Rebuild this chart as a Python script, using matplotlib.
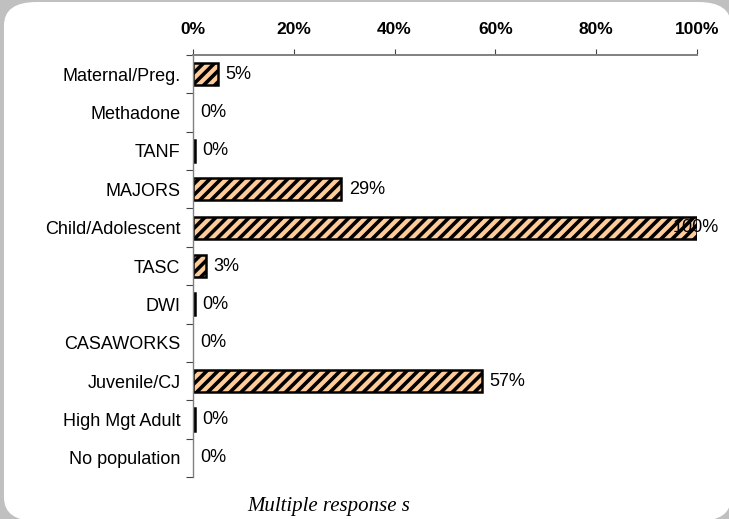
import matplotlib
matplotlib.use('Agg')
import matplotlib.pyplot as plt
from matplotlib.patches import FancyBboxPatch

plt.rcParams['font.family'] = ['Liberation Sans', 'DejaVu Sans']
plt.rcParams['hatch.linewidth'] = 2.6
plt.rcParams['hatch.color'] = '#333333'

categories = ['Maternal/Preg.', 'Methadone', 'TANF', 'MAJORS', 'Child/Adolescent',
              'TASC', 'DWI', 'CASAWORKS', 'Juvenile/CJ', 'High Mgt Adult', 'No population']
values = [5.0, 0.0, 0.4, 29.4, 100.0, 2.6, 0.4, 0.0, 57.3, 0.4, 0.0]
labels = ['5%', '0%', '0%', '29%', '100%', '3%', '0%', '0%', '57%', '0%', '0%']
xticks = [0, 20, 40, 60, 80, 100]

W, H = 729, 519
fig = plt.figure(figsize=(W / 100, H / 100), dpi=100)
fig.patch.set_facecolor('#c0c0c0')

# white rounded panel behind everything
panel = FancyBboxPatch((4 / W, -2 / H), 727 / W, 519 / H,
                       boxstyle='round,pad=0,rounding_size=0.045',
                       transform=fig.transFigure, facecolor='white',
                       edgecolor='none', zorder=-5)
fig.patches.append(panel)

ax = fig.add_axes([193 / W, 1 - 477 / H, (697 - 193) / W, (477 - 55) / H])
ax.patch.set_alpha(0)

ypos = list(range(len(categories)))
for y, v in zip(ypos, values):
    if v <= 0:
        continue
    ax.barh(y, v, height=0.58, color='#ffcc99', edgecolor='black',
            linewidth=1.8, hatch='///' if v > 1 else None, zorder=2)

for y, v, t in zip(ypos, values, labels):
    if v >= 95:
        # label pushed back over the bar end so it stays inside the plot
        ax.text(104.3, y, t, va='center', ha='right', fontsize=13, zorder=3)
    else:
        ax.text(v + 1.5, y, t, va='center', ha='left', fontsize=13, zorder=3)

ax.set_ylim(len(categories) - 0.5, -0.5)
ax.set_xlim(0, 100)
ax.set_yticks(ypos)
ax.set_yticklabels(categories, fontsize=13)
ax.set_yticks([i - 0.5 for i in range(len(categories) + 1)], minor=True)
ax.tick_params(axis='y', which='major', length=0, pad=9)
ax.tick_params(axis='y', which='minor', length=5, width=0.8, color='#444444')

ax.xaxis.tick_top()
ax.set_xticks(xticks)
ax.set_xticklabels([f'{x}%' for x in xticks], fontsize=12.5, fontweight='bold')
ax.tick_params(axis='x', length=4, width=0.8, color='#444444', pad=9, direction='out')

for s in ['right', 'bottom']:
    ax.spines[s].set_visible(False)
ax.spines['top'].set_color('#808080')
ax.spines['top'].set_linewidth(1.4)
ax.spines['left'].set_color('#808080')
ax.spines['left'].set_linewidth(1.0)

fig.text(329 / W, 1 - 506 / H, 'Multiple response s', ha='center', va='center',
         fontsize=15, style='italic', family='Liberation Serif')

fig.savefig('out.png', dpi=100)
